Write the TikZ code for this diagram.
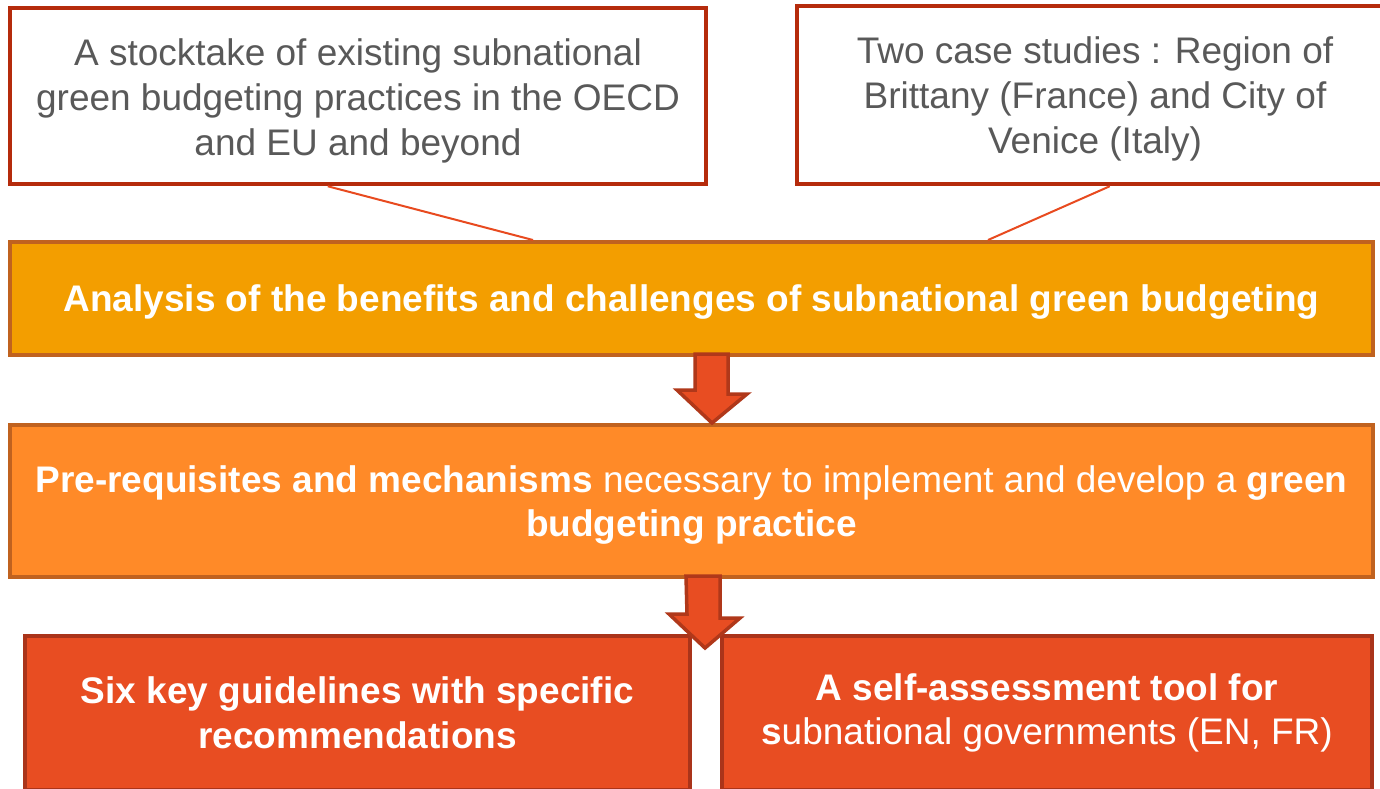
\documentclass[tikz,border=0pt]{standalone}
\usepackage{fontspec}
\setmainfont{Liberation Sans}
\usetikzlibrary{calc}
\definecolor{txtgray}{HTML}{595959}
\definecolor{redline}{HTML}{B52B0C}
\definecolor{linkline}{HTML}{E84A1F}
\definecolor{amber}{HTML}{F39E00}
\definecolor{amberedge}{HTML}{C0621F}
\definecolor{orangefill}{HTML}{FF8A28}
\definecolor{redfill}{HTML}{E84D22}
\definecolor{rededge}{HTML}{AA341A}
\definecolor{arrowedge}{HTML}{B0381A}
\tikzset{
  srcbox/.style={draw=redline, line width=4.5pt, fill=white, inner sep=0pt},
  srctext/.style={text=txtgray, align=center, inner sep=0pt,
    font=\fontsize{37}{45}\selectfont},
  bandbox/.style={draw=amberedge, line width=4pt, inner sep=0pt},
  outbox/.style={draw=rededge, line width=4pt, fill=redfill, inner sep=0pt},
  whitetext/.style={text=white, align=center, inner sep=0pt,
    font=\fontsize{37}{44.5}\selectfont},
  link/.style={draw=linkline, line width=2pt},
  blockarrow/.style={draw=arrowedge, fill=redfill, line width=3.5pt, line join=miter}
}
\begin{document}
\begin{tikzpicture}[x=1pt,y=-1pt]
  \useasboundingbox (0,0) rectangle (1380,788);
  \clip (0,0) rectangle (1380,788);
  \fill[white] (0,0) rectangle (1380,788);

  % sources
  \node[srcbox, minimum width=696, minimum height=176] (stock) at (358,96) {};
  \node[srctext] (stock-t) at ($(stock.center)+(0,5)$)
    {A stocktake of existing subnational\\green budgeting practices in the OECD\\and EU and beyond};
  \node[srcbox, minimum width=596, minimum height=178] (cases) at (1095,95) {};
  \node[srctext] (cases-t) at ($(cases.center)+(0,4)$)
    {Two case studies : Region of\\Brittany (France) and City of\\Venice (Italy)};

  % analysis band
  \node[bandbox, fill=amber, minimum width=1363, minimum height=113] (ana) at (691.5,298.5) {};
  \node[whitetext] (ana-t) at ($(ana.center)+(0,4)$)
    {\bfseries Analysis of the benefits and challenges of subnational green budgeting};

  % links from the sources to the analysis
  \draw[link] ($(stock.south west)+(320,0)$) -- ($(ana.north west)+(525,0)$);
  \draw[link] ($(cases.south west)+(315,0)$) -- ($(ana.north west)+(980,0)$);

  % prerequisites band
  \node[bandbox, fill=orangefill, minimum width=1363, minimum height=152] (pre) at (691.5,501) {};
  \node[whitetext] (pre-t) at ($(pre.center)+(0,4)$)
    {\textbf{Pre-requisites and mechanisms} necessary to implement and develop a \textbf{green}\\\textbf{budgeting practice}};

  % outputs
  \node[outbox, minimum width=665, minimum height=154] (six) at (357.5,713) {};
  \node[whitetext] (six-t) at ($(six.center)+(0,0)$)
    {\bfseries Six key guidelines with specific\\\bfseries recommendations};
  \node[outbox, minimum width=650, minimum height=154] (tool) at (1047,713) {};
  \node[whitetext] (tool-t) at ($(tool.center)+(0,0)$)
    {\textbf{A self-assessment tool for}\\\textbf{s}ubnational governments (EN, FR)};

  % block arrows
  \draw[blockarrow] ($(ana.south)+(3.5,-3)$) -- ++(33,0) -- ++(0,40) -- ++(19,0)
    -- ($(pre.north)+(20.5,0)$) -- ++(-35,-33) -- ++(18,0) -- cycle;
  \draw[blockarrow] ($(pre.south)+(-5.5,-3)$) -- ++(34,0) -- ++(0,42) -- ++(20,0)
    -- ($(six.north east)+(13,14)$) -- ++(-36,-34) -- ++(18,0) -- cycle;
\end{tikzpicture}
\end{document}
